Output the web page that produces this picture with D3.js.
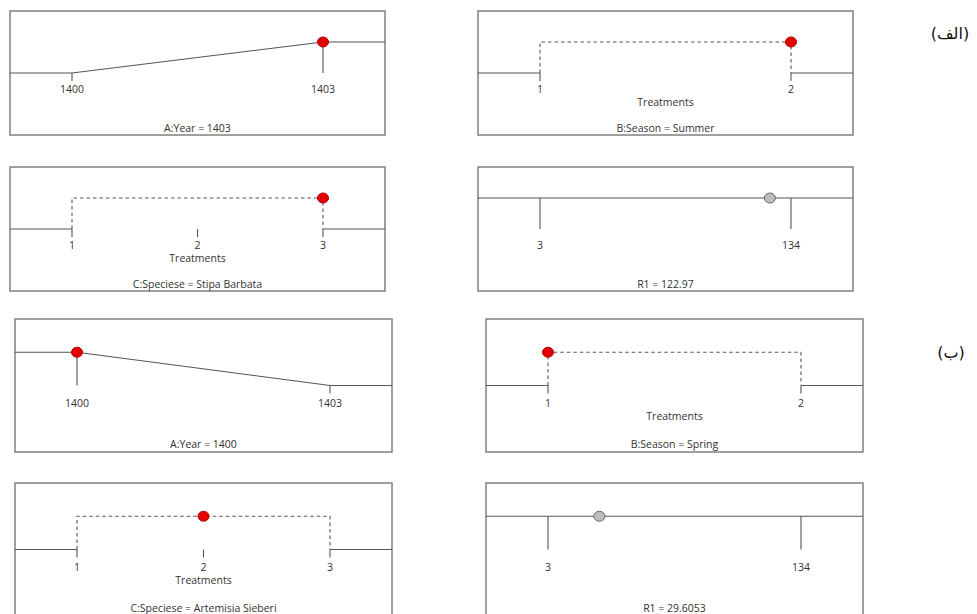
<!DOCTYPE html>
<html>
<head>
<meta charset="utf-8">
<script src="https://cdn.jsdelivr.net/npm/d3@7"></script>
<style>
  body { margin: 0; background: #fff; }
  svg text { font-family: "Open Sans", "Noto Sans", sans-serif; fill: #333; }
</style>
</head>
<body>
<svg id="chart" width="977" height="614"></svg>
<script>
// factor levels (tick labels)
const yearLevels = [1400, 1403];
const seasonLevels = [1, 2];
const speciesLevels = [1, 2, 3];
const r1Range = [3, 134];

// the two solutions (الف / ب)
const groupLabels = ["(الف)", "(ب)"];
const yearPicked = [1403, 1400];
const seasonPicked = [2, 1];
const seasonNames = ["Summer", "Spring"];
const speciesPicked = [3, 2];
const speciesNames = ["Stipa Barbata", "Artemisia Sieberi"];
const r1Values = [122.97, 29.6053];

const svg = d3.select("#chart");

// panel boxes for each group: column x, row y, size
const layout = [
  { cols: [10, 478], rows: [11, 167], w: 375, h: 124, labelX: 950, labelY: 33 },
  { cols: [15, 486], rows: [319, 483], w: 377, h: 133, labelX: 951, labelY: 352 }
];

const lineColor = "#555";

const panelScales = (w, h) => {
  return {
    y: d3.scaleLinear().domain([0, 1]).range([h * 0.5, h * 0.25]),
    tickY: h * 0.63,
    treatY: h * 0.73,
    titleY: h * 0.94
  };
};

const addText = (g, x, y, txt) => {
  g.append("text")
    .attr("x", x)
    .attr("y", y)
    .attr("text-anchor", "middle")
    .attr("dominant-baseline", "central")
    .style("font-size", "10.5px")
    .text(txt);
};

const drawBox = (g, w, h) => {
  g.append("rect")
    .attr("x", 0).attr("y", 0)
    .attr("width", w).attr("height", h)
    .attr("fill", "none")
    .attr("stroke", "#808080")
    .attr("stroke-width", 1.5);
};

const drawDot = (g, cx, cy, fill, stroke) => {
  g.append("ellipse")
    .attr("cx", cx).attr("cy", cy)
    .attr("rx", 5.5).attr("ry", 5)
    .attr("fill", fill)
    .attr("stroke", stroke)
    .attr("stroke-width", 1);
};

// numeric factor: ramp from low level to picked level
const drawNumeric = (g, w, h, levels, picked, title) => {
  const s = panelScales(w, h);
  const x = d3.scaleLinear().domain(d3.extent(levels)).range([62, w - 62]);
  const d = levels.map((l) => (l === picked ? 1 : 0));

  const pts = [[0, s.y(d[0])]]
    .concat(levels.map((l, i) => [x(l), s.y(d[i])]))
    .concat([[w, s.y(d[d.length - 1])]]);

  g.append("path")
    .attr("d", d3.line()(pts))
    .attr("fill", "none")
    .attr("stroke", lineColor)
    .attr("stroke-width", 1.1);

  levels.forEach((l, i) => {
    const y1 = d[i] === 1 ? s.y(1) : s.y(0);
    const y2 = d[i] === 1 ? s.y(0) : s.y(0) + 8;
    g.append("line")
      .attr("x1", x(l)).attr("x2", x(l))
      .attr("y1", y1).attr("y2", y2)
      .attr("stroke", lineColor)
      .attr("stroke-width", 1.1);
    addText(g, x(l), s.tickY, l);
  });

  drawDot(g, x(picked), s.y(1), "#e30000", "#b00000");
  addText(g, w / 2, s.titleY, title);
};

// categorical factor: dashed frame, picked level on top
const drawCategorical = (g, w, h, levels, picked, title) => {
  const s = panelScales(w, h);
  const x = d3.scaleLinear().domain(d3.extent(levels)).range([62, w - 62]);
  const first = levels[0];
  const last = levels[levels.length - 1];

  g.append("path")
    .attr("d", d3.line()([[x(first), s.y(0)], [x(first), s.y(1)], [x(last), s.y(1)], [x(last), s.y(0)]]))
    .attr("fill", "none")
    .attr("stroke", lineColor)
    .attr("stroke-width", 1.1)
    .attr("stroke-dasharray", "3.5,3");

  g.append("line")
    .attr("x1", 0).attr("x2", x(first))
    .attr("y1", s.y(0)).attr("y2", s.y(0))
    .attr("stroke", lineColor).attr("stroke-width", 1.1);
  g.append("line")
    .attr("x1", x(last)).attr("x2", w)
    .attr("y1", s.y(0)).attr("y2", s.y(0))
    .attr("stroke", lineColor).attr("stroke-width", 1.1);

  levels.forEach((l) => {
    g.append("line")
      .attr("x1", x(l)).attr("x2", x(l))
      .attr("y1", s.y(0)).attr("y2", s.y(0) + 8)
      .attr("stroke", lineColor)
      .attr("stroke-width", 1.1);
    addText(g, x(l), s.tickY, l);
  });

  addText(g, w / 2, s.treatY, "Treatments");
  drawDot(g, x(picked), s.y(1), "#e30000", "#b00000");
  addText(g, w / 2, s.titleY, title);
};

// response: flat line, value marker in grey
const drawResponse = (g, w, h, range, value, title) => {
  const s = panelScales(w, h);
  const x = d3.scaleLinear().domain(range).range([62, w - 62]);

  g.append("line")
    .attr("x1", 0).attr("x2", w)
    .attr("y1", s.y(1)).attr("y2", s.y(1))
    .attr("stroke", lineColor).attr("stroke-width", 1.1);

  range.forEach((r) => {
    g.append("line")
      .attr("x1", x(r)).attr("x2", x(r))
      .attr("y1", s.y(1)).attr("y2", s.y(0))
      .attr("stroke", lineColor)
      .attr("stroke-width", 1.1);
    addText(g, x(r), s.tickY, r);
  });

  drawDot(g, x(value), s.y(1), "#bdbdbd", "#666");
  addText(g, w / 2, s.titleY, title);
};

layout.forEach((lay, gi) => {
  const panels = [
    { col: 0, row: 0, draw: (g) => drawNumeric(g, lay.w, lay.h, yearLevels, yearPicked[gi], "A:Year = " + yearPicked[gi]) },
    { col: 1, row: 0, draw: (g) => drawCategorical(g, lay.w, lay.h, seasonLevels, seasonPicked[gi], "B:Season = " + seasonNames[gi]) },
    { col: 0, row: 1, draw: (g) => drawCategorical(g, lay.w, lay.h, speciesLevels, speciesPicked[gi], "C:Speciese = " + speciesNames[gi]) },
    { col: 1, row: 1, draw: (g) => drawResponse(g, lay.w, lay.h, r1Range, r1Values[gi], "R1 = " + r1Values[gi]) }
  ];

  panels.forEach((p) => {
    const g = svg.append("g")
      .attr("transform", `translate(${lay.cols[p.col]}, ${lay.rows[p.row]})`);
    drawBox(g, lay.w, lay.h);
    p.draw(g);
  });

  // group label on the right
  svg.append("text")
    .attr("x", lay.labelX)
    .attr("y", lay.labelY)
    .attr("text-anchor", "middle")
    .attr("dominant-baseline", "central")
    .style("font-family", "\"DejaVu Sans\", sans-serif")
    .style("font-size", "16px")
    .style("fill", "#111")
    .text(groupLabels[gi]);
});
</script>
</body>
</html>
